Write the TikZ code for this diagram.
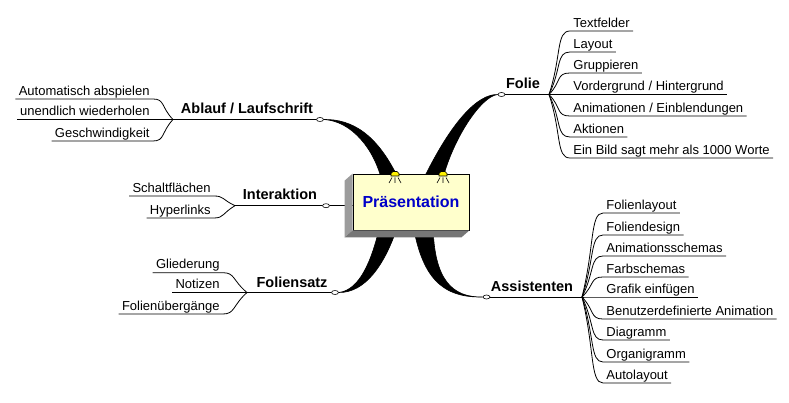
\documentclass[tikz,border=0pt]{standalone}
\usepackage{fontspec}
\setmainfont{Liberation Sans}
\usepackage{tikz}
\usetikzlibrary{shapes.geometric}
\usetikzlibrary{calc}

\definecolor{boxyellow}{HTML}{FFFFCC}
\definecolor{praesblue}{HTML}{0000C8}
\definecolor{sidegray}{HTML}{9C9C9C}
\definecolor{floorgray}{HTML}{767676}

\newcommand{\leaffont}{\fontsize{13}{15}\selectfont}
\newcommand{\topicfont}{\fontsize{14.5}{17}\selectfont\bfseries}

\tikzset{
  leaf/.style={inner xsep=3pt, inner ysep=0.5pt, text height=10pt, text depth=3pt, font=\leaffont},
  topic/.style={anchor=base, inner sep=0pt, font=\topicfont},
  knot/.style={ellipse, draw, fill=white, line width=0.6pt, minimum width=7pt, minimum height=4pt, inner sep=0pt},
  twig/.style={to path={.. controls ($(\tikztostart)!0.6!(\tikztotarget)$) and ($(\tikztotarget)+(#1,0)$) .. (\tikztotarget)}},
  praes/.style={draw, fill=boxyellow, minimum width=116pt, minimum height=56pt, text=praesblue, font=\fontsize{16}{19}\selectfont\bfseries}
}

\begin{document}
\begin{tikzpicture}[x=1pt, y=-1pt, line width=0.8pt]
\useasboundingbox (0,0) rectangle (789,403);

\node[knot] (ablauf-knot) at (320,119.5) {};
\node[knot] (folie-knot) at (501.5,94.5) {};
\node[knot] (interaktion-knot) at (326,205.7) {};
\node[knot] (foliensatz-knot) at (335,292.5) {};
\node[knot] (assistenten-knot) at (486.5,297) {};

\coordinate (ablauf-fork) at (173,119.5);
\coordinate (folie-fork) at (549,94.5);
\coordinate (interaktion-fork) at (235,205.7);
\coordinate (foliensatz-fork) at (247,292.5);
\coordinate (assistenten-fork) at (582,297);

\node[topic] (ablauf) at (247,114) {Ablauf / Laufschrift};
\node[topic] (folie) at (523,89) {Folie};
\node[topic] (interaktion) at (280,200) {Interaktion};
\node[topic] (foliensatz) at (292,287) {Foliensatz};
\node[topic] (assistenten) at (532,291.5) {Assistenten};

\node[leaf, anchor=south east] (automatisch) at (153,99) {Automatisch abspielen};
\node[leaf, anchor=south east] (unendlich) at (153,119.5) {unendlich wiederholen};
\node[leaf, anchor=south east] (geschw) at (153,141) {Geschwindigkeit};
\draw (ablauf-fork) to[twig=12] (automatisch.south east) -- (automatisch.south west);
\draw (ablauf-fork) to[twig=12] (unendlich.south east) -- (unendlich.south west);
\draw (ablauf-fork) to[twig=12] (geschw.south east) -- (geschw.south west);

\node[leaf, anchor=south east] (schaltfl) at (214,196) {Schaltflächen};
\node[leaf, anchor=south east] (hyperlinks) at (214,218) {Hyperlinks};
\draw (interaktion-fork) to[twig=10] (schaltfl.south east) -- (schaltfl.south west);
\draw (interaktion-fork) to[twig=10] (hyperlinks.south east) -- (hyperlinks.south west);

\node[leaf, anchor=south east] (gliederung) at (223,272.7) {Gliederung};
\node[leaf, anchor=south east] (notizen) at (223,292.5) {Notizen};
\node[leaf, anchor=south east] (uebergaenge) at (223,314) {Folienübergänge};
\draw (foliensatz-fork) to[twig=12] (gliederung.south east) -- (gliederung.south west);
\draw (foliensatz-fork) to[twig=12] (notizen.south east) -- (notizen.south west);
\draw (foliensatz-fork) to[twig=12] (uebergaenge.south east) -- (uebergaenge.south west);

\node[leaf, anchor=south west] (textfelder) at (570,31) {Textfelder};
\node[leaf, anchor=south west] (layout) at (570,52) {Layout};
\node[leaf, anchor=south west] (gruppieren) at (570,73) {Gruppieren};
\node[leaf, anchor=south west] (vordergrund) at (570,94.5) {Vordergrund / Hintergrund};
\node[leaf, anchor=south west] (animationen) at (570,116) {Animationen / Einblendungen};
\node[leaf, anchor=south west] (aktionen) at (570,137) {Aktionen};
\node[leaf, anchor=south west] (einbild) at (570,158) {Ein Bild sagt mehr als 1000 Worte};
\draw (folie-fork) to[twig=-14] (textfelder.south west) -- (textfelder.south east);
\draw (folie-fork) to[twig=-14] (layout.south west) -- (layout.south east);
\draw (folie-fork) to[twig=-14] (gruppieren.south west) -- (gruppieren.south east);
\draw (folie-fork) to[twig=-14] (vordergrund.south west) -- (vordergrund.south east);
\draw (folie-fork) to[twig=-14] (animationen.south west) -- (animationen.south east);
\draw (folie-fork) to[twig=-14] (aktionen.south west) -- (aktionen.south east);
\draw (folie-fork) to[twig=-14] (einbild.south west) -- (einbild.south east);

\node[leaf, anchor=south west] (folienlayout) at (603,213) {Folienlayout};
\node[leaf, anchor=south west] (foliendesign) at (603,235) {Foliendesign};
\node[leaf, anchor=south west] (animschemas) at (603,256) {Animationsschemas};
\node[leaf, anchor=south west] (farbschemas) at (603,277) {Farbschemas};
\node[leaf, anchor=south west] (grafik) at (603,297) {Grafik einfügen};
\node[leaf, anchor=south west] (benutzer) at (603,319) {Benutzerdefinierte Animation};
\node[leaf, anchor=south west] (diagramm) at (603,340) {Diagramm};
\node[leaf, anchor=south west] (organigramm) at (603,362) {Organigramm};
\node[leaf, anchor=south west] (autolayout) at (603,383) {Autolayout};
\draw (assistenten-fork) to[twig=-13] (folienlayout.south west) -- (folienlayout.south east);
\draw (assistenten-fork) to[twig=-13] (foliendesign.south west) -- (foliendesign.south east);
\draw (assistenten-fork) to[twig=-13] (animschemas.south west) -- (animschemas.south east);
\draw (assistenten-fork) to[twig=-13] (farbschemas.south west) -- (farbschemas.south east);
\draw (assistenten-fork) to[twig=-13] (grafik.south west) -- (grafik.south east);
\draw (assistenten-fork) to[twig=-13] (benutzer.south west) -- (benutzer.south east);
\draw (assistenten-fork) to[twig=-13] (diagramm.south west) -- (diagramm.south east);
\draw (assistenten-fork) to[twig=-13] (organigramm.south west) -- (organigramm.south east);
\draw (assistenten-fork) to[twig=-13] (autolayout.south west) -- (autolayout.south east);

\draw (ablauf-fork) -- (ablauf-knot);
\draw (folie-fork) -- (folie-knot);
\draw (interaktion-fork) -- (interaktion-knot);
\draw (foliensatz-fork) -- (foliensatz-knot);
\draw (assistenten-fork) -- (assistenten-knot);

\filldraw[line width=0.6pt] (ablauf-knot.east) .. controls (352,119) and (378,134) .. (400,182) -- (382,182) .. controls (375,150) and (352,121) .. (ablauf-knot.east) -- cycle;
\filldraw[line width=0.6pt] (folie-knot.west) .. controls (478,94) and (452,120) .. (422,182) -- (442,182) .. controls (452,140) and (481,96) .. (folie-knot.west) -- cycle;
\filldraw[line width=0.6pt] (foliensatz-knot.east) .. controls (360,290) and (372,260) .. (380,225) -- (398,225) .. controls (385,265) and (365,293) .. (foliensatz-knot.east) -- cycle;
\filldraw[line width=0.6pt] (assistenten-knot.west) .. controls (440,298) and (422,275) .. (413,225) -- (433,225) .. controls (434,280) and (452,297.5) .. (assistenten-knot.west) -- cycle;
\draw (interaktion-knot) -- (interaktion-knot -| 353,0);

\node[praes] (praes) at (411,202) {Präsentation};
\fill[sidegray] (praes.north west) -- ++(-8,7) -- ($(praes.south west)+(-8,7)$) -- (praes.south west) -- cycle;
\fill[floorgray] (praes.south west) -- ++(-8,7) -- ($(praes.south east)+(-8,7)$) -- (praes.south east) -- cycle;

\filldraw[fill=yellow, line width=0.6pt] (391,176) -- (391,173.5) -- (393,171.5) -- (397,171.5) -- (399,173.5) -- (399,176) -- cycle;
\draw[line width=0.6pt] (392,177.5) -- (389,183) (395,177.5) -- (395,183) (398,177.5) -- (401,183);
\filldraw[fill=yellow, line width=0.6pt] (439,176) -- (439,173.5) -- (441,171.5) -- (445,171.5) -- (447,173.5) -- (447,176) -- cycle;
\draw[line width=0.6pt] (440,177.5) -- (437,183) (443,177.5) -- (443,183) (446,177.5) -- (449,183);
\end{tikzpicture}
\end{document}
